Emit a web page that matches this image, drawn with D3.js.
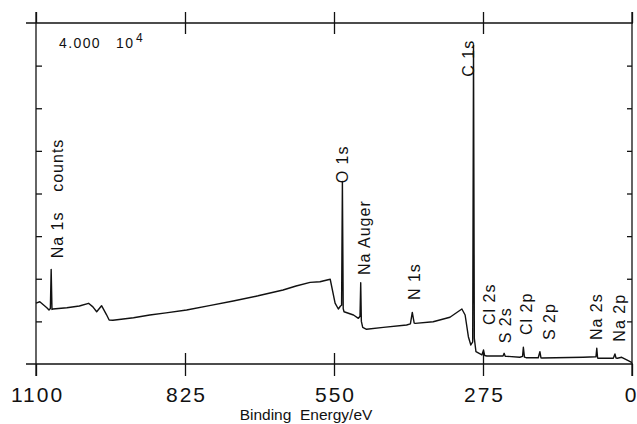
<!DOCTYPE html>
<html>
<head>
<meta charset="utf-8">
<script src="https://cdn.jsdelivr.net/npm/d3@7"></script>
<style>
  body { margin: 0; background: #fff; }
  svg { display: block; }
  text { font-family: "Liberation Sans", Arial, Helvetica, sans-serif; fill: #111; }
  .axis path, .axis line { stroke: #111; stroke-width: 1.3; }
</style>
</head>
<body>
<svg width="637" height="424"></svg>
<script>
// binding energy (eV) and counts
var energy = [1100, 1093, 1080, 1076, 1073.5, 1072, 1070.5, 1069, 1043, 1020, 1003, 995, 988, 979, 970, 965, 958,
  920, 890, 860, 822, 780, 736, 690, 644, 620, 594, 576, 557, 548, 542, 538, 536, 534.5, 533, 531.5,
  514, 505, 502, 500.7, 499.5, 497, 490, 459, 416, 409, 405.5, 402, 400, 367, 336, 314, 308, 302, 297.5,
  294, 292.5, 291, 288, 277, 274, 272, 268, 238, 236, 234, 231, 207, 202, 200.5, 198.5, 195.5,
  173, 170, 168, 166.5, 90, 66.5, 65, 63.5, 62, 34.5, 31.5, 29.5, 27, 19, 7, 0];
var counts = [7150, 7300, 6600, 6330, 6500, 11100, 6400, 6450, 6600, 6800, 7120, 6700, 6130, 6840, 5800, 5160, 5130,
  5420, 5750, 6000, 6330, 6850, 7390, 8000, 8680, 9150, 9580, 9650, 9940, 7150, 6450, 6800, 6900, 21400, 6500, 6130,
  5750, 5360, 5600, 9540, 5000, 4300, 4070, 4300, 4570, 4700, 6060, 4800, 4770, 4960, 5480, 6450, 5750, 3200, 2230,
  2600, 37400, 3000, 1440, 1060, 1640, 1000, 940, 940, 1250, 900, 900, 790, 900, 1960, 800, 740,
  740, 1440, 720, 700, 790, 850, 1840, 700, 670, 670, 1170, 700, 670, 790, 390, 150];

var xTicks = [1100, 825, 550, 275, 0];
var yTicks = [0, 5000, 10000, 15000, 20000, 25000, 30000, 35000, 40000];

// peak labels: text start (energy, counts), rotated
var peakLabels = ["Na 1s", "counts", "O 1s", "Na Auger", "N 1s", "C 1s", "Cl 2s", "S 2s", "Cl 2p", "S 2p", "Na 2s", "Na 2p"];
var labelEnergy = [1050, 1050, 524, 484, 391, 291.5, 253, 224, 185, 142, 56, 13];
var labelCounts = [12400, 20200, 21200, 10440, 7500, 33700, 4570, 2430, 3400, 2810, 2810, 2620];

var svg = d3.select("svg");

var x = d3.scaleLinear().domain([1100, 0]).range([36, 632]);
var y = d3.scaleLinear().domain([0, 40000]).range([364, 23]);

var data = energy.map(function(e, i) { return {e: e, c: counts[i]}; });

// frame lines (extend a little past the corners like the original)
var x0 = x.range()[0], x1 = x.range()[1], yb = y.range()[0], yt = y.range()[1];
var frame = svg.append("g").attr("stroke", "#111").attr("stroke-width", 1.3);
frame.append("line").attr("x1", x0 - 10).attr("x2", x1 + 1).attr("y1", yb).attr("y2", yb);
frame.append("line").attr("x1", x0 - 10).attr("x2", x1 + 1).attr("y1", yt).attr("y2", yt);
frame.append("line").attr("x1", x0).attr("x2", x0).attr("y1", yt - 11).attr("y2", yb + 12);
frame.append("line").attr("x1", x1).attr("x2", x1).attr("y1", yt - 11).attr("y2", yb + 12);

// bottom axis: ticks crossing the line, labels below
var bottom = svg.append("g")
    .attr("class", "axis")
    .attr("transform", "translate(0," + yb + ")")
    .call(d3.axisBottom(x).tickValues(xTicks).tickSize(12).tickFormat(d3.format("d")));
bottom.select(".domain").remove();
bottom.selectAll("text")
    .attr("y", 38).attr("dy", 0)
    .style("font-size", "21px")
    .style("letter-spacing", "2px")
    .attr("dx", 1);
// last label sits against the right edge
bottom.selectAll("text")
    .filter(function(d) { return d === 0; })
    .attr("text-anchor", "end")
    .style("letter-spacing", "0px")
    .attr("dx", 4);
svg.append("g")
    .attr("class", "axis")
    .attr("transform", "translate(0," + yb + ")")
    .call(d3.axisTop(x).tickValues(xTicks.slice(1, 4)).tickSize(11).tickFormat(""))
    .select(".domain").remove();

// top axis
svg.append("g")
    .attr("class", "axis")
    .attr("transform", "translate(0," + yt + ")")
    .call(d3.axisTop(x).tickValues(xTicks).tickSize(11).tickFormat(""))
    .select(".domain").remove();
svg.append("g")
    .attr("class", "axis")
    .attr("transform", "translate(0," + yt + ")")
    .call(d3.axisBottom(x).tickValues(xTicks.slice(1, 4)).tickSize(11).tickFormat(""))
    .select(".domain").remove();

// left and right y ticks, inward
svg.append("g")
    .attr("class", "axis")
    .attr("transform", "translate(" + x0 + ",0)")
    .call(d3.axisLeft(y).tickValues(yTicks.slice(1, 8)).tickSize(-6).tickFormat(""))
    .select(".domain").remove();
svg.append("g")
    .attr("class", "axis")
    .attr("transform", "translate(" + x1 + ",0)")
    .call(d3.axisRight(y).tickValues(yTicks.slice(1, 8)).tickSize(-5).tickFormat(""))
    .select(".domain").remove();

// spectrum
var line = d3.line()
    .x(function(d) { return x(d.e); })
    .y(function(d) { return y(d.c); });

svg.append("path")
    .datum(data)
    .attr("fill", "none")
    .attr("stroke", "#111")
    .attr("stroke-width", 1.4)
    .attr("stroke-linejoin", "round")
    .attr("d", line);

// scale factor
var sc = svg.append("text")
    .attr("x", 59)
    .attr("y", 48)
    .style("font-size", "14px")
    .style("letter-spacing", "1.4px");
sc.append("tspan").text("4.000");
sc.append("tspan").attr("x", 116).text("10");
sc.append("tspan").attr("x", 136).attr("dy", -6).style("font-size", "12px").text("4");

// x axis label
svg.append("text")
    .attr("x", 306)
    .attr("y", 420)
    .attr("text-anchor", "middle")
    .style("font-size", "15.5px")
    .style("white-space", "pre")
    .text("Binding  Energy/eV");

// peak labels
svg.selectAll("text.peak")
    .data(peakLabels)
    .enter().append("text")
    .attr("class", "peak")
    .attr("transform", function(d, i) {
      return "translate(" + x(labelEnergy[i]) + "," + y(labelCounts[i]) + ") rotate(-90)";
    })
    .style("font-size", "16px")
    .style("letter-spacing", "1px")
    .text(function(d) { return d; });
</script>
</body>
</html>
